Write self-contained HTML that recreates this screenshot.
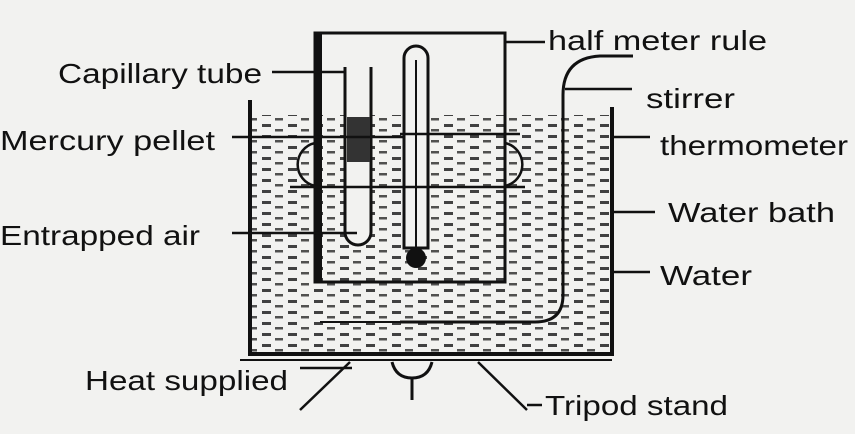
<!DOCTYPE html>
<html><head><meta charset="utf-8"><style>
html,body{margin:0;padding:0;background:#f2f2f0;}
svg{display:block}
text{font-family:"Liberation Sans",sans-serif;font-size:28px;fill:#111}
</style></head><body>
<svg width="855" height="434" viewBox="0 0 855 434" xmlns="http://www.w3.org/2000/svg">
<defs>
<pattern id="w" width="26" height="11" patternUnits="userSpaceOnUse">
<rect x="2" y="3" width="9" height="3" fill="#222"/>
<rect x="15" y="8" width="8" height="2.5" fill="#333"/>
</pattern>
</defs>
<rect width="855" height="434" fill="#f2f2f0"/>
<rect x="252" y="115" width="358" height="237" fill="url(#w)" opacity="0.85"/>
<rect x="315" y="33" width="190" height="249" fill="none" stroke="#111" stroke-width="3"/>
<rect x="315" y="33" width="7" height="249" fill="#111"/>
<rect x="323" y="35" width="180" height="80" fill="#f2f2f0"/>
<path d="M345 67 V232 A13 13 0 0 0 371 232 V67" fill="#f2f2f0" stroke="#111" stroke-width="3"/>
<rect x="347" y="117" width="23" height="45" fill="#333"/>
<path d="M404 58 A12 12 0 0 1 428 58 V248 H404 Z" fill="#f2f2f0" stroke="#111" stroke-width="3"/>
<line x1="416" y1="60" x2="416" y2="250" stroke="#111" stroke-width="2"/>
<circle cx="416" cy="258" r="10" fill="#111"/>
<line x1="290" y1="187" x2="525" y2="187" stroke="#111" stroke-width="2.5"/>
<line x1="400" y1="134" x2="520" y2="134" stroke="#111" stroke-width="2.5"/>
<path d="M315 143 A22 22 0 0 0 315 186" fill="none" stroke="#111" stroke-width="2.5"/>
<path d="M505 143 A22 22 0 0 1 505 186" fill="none" stroke="#111" stroke-width="2.5"/>
<path d="M250 100 V354 H612 V107" fill="none" stroke="#111" stroke-width="4"/>
<line x1="240" y1="360" x2="612" y2="360" stroke="#111" stroke-width="2"/>
<!-- stirrer -->
<path d="M563 95 V295 Q563 322 535 322 H400" fill="none" stroke="#111" stroke-width="3"/>
<path d="M563 95 Q563 58 600 56 H633" fill="none" stroke="#111" stroke-width="3"/>
<line x1="320" y1="322" x2="400" y2="322" stroke="#111" stroke-width="2"/>
<line x1="350" y1="362" x2="300" y2="410" stroke="#111" stroke-width="2.5"/>
<line x1="478" y1="362" x2="527" y2="410" stroke="#111" stroke-width="2.5"/>
<path d="M392 362 Q396 378 412 378 Q428 378 432 362" fill="none" stroke="#111" stroke-width="3"/>
<line x1="412" y1="378" x2="412" y2="400" stroke="#111" stroke-width="3"/>
<g stroke="#111" stroke-width="2.5">
<line x1="505" y1="42" x2="545" y2="42"/>
<line x1="272" y1="72" x2="345" y2="72"/>
<line x1="565" y1="89" x2="632" y2="89"/>
<line x1="232" y1="137" x2="404" y2="137"/>
<line x1="612" y1="137" x2="650" y2="137"/>
<line x1="612" y1="212" x2="655" y2="212"/>
<line x1="232" y1="233" x2="357" y2="233"/>
<line x1="612" y1="272" x2="650" y2="272"/>
<line x1="300" y1="368" x2="352" y2="368"/>
<line x1="527" y1="405" x2="542" y2="405"/>
</g>
<text x="548" y="50" textLength="219" lengthAdjust="spacingAndGlyphs">half meter rule</text>
<text x="58" y="83" textLength="204" lengthAdjust="spacingAndGlyphs">Capillary tube</text>
<text x="646" y="108" textLength="89" lengthAdjust="spacingAndGlyphs">stirrer</text>
<text x="0" y="150" textLength="215" lengthAdjust="spacingAndGlyphs">Mercury pellet</text>
<text x="660" y="155" textLength="188" lengthAdjust="spacingAndGlyphs">thermometer</text>
<text x="668" y="222" textLength="167" lengthAdjust="spacingAndGlyphs">Water bath</text>
<text x="0" y="245" textLength="200" lengthAdjust="spacingAndGlyphs">Entrapped air</text>
<text x="660" y="285" textLength="92" lengthAdjust="spacingAndGlyphs">Water</text>
<text x="85" y="390" textLength="203" lengthAdjust="spacingAndGlyphs">Heat supplied</text>
<text x="545" y="415" textLength="183" lengthAdjust="spacingAndGlyphs">Tripod stand</text>
</svg>
</body></html>
